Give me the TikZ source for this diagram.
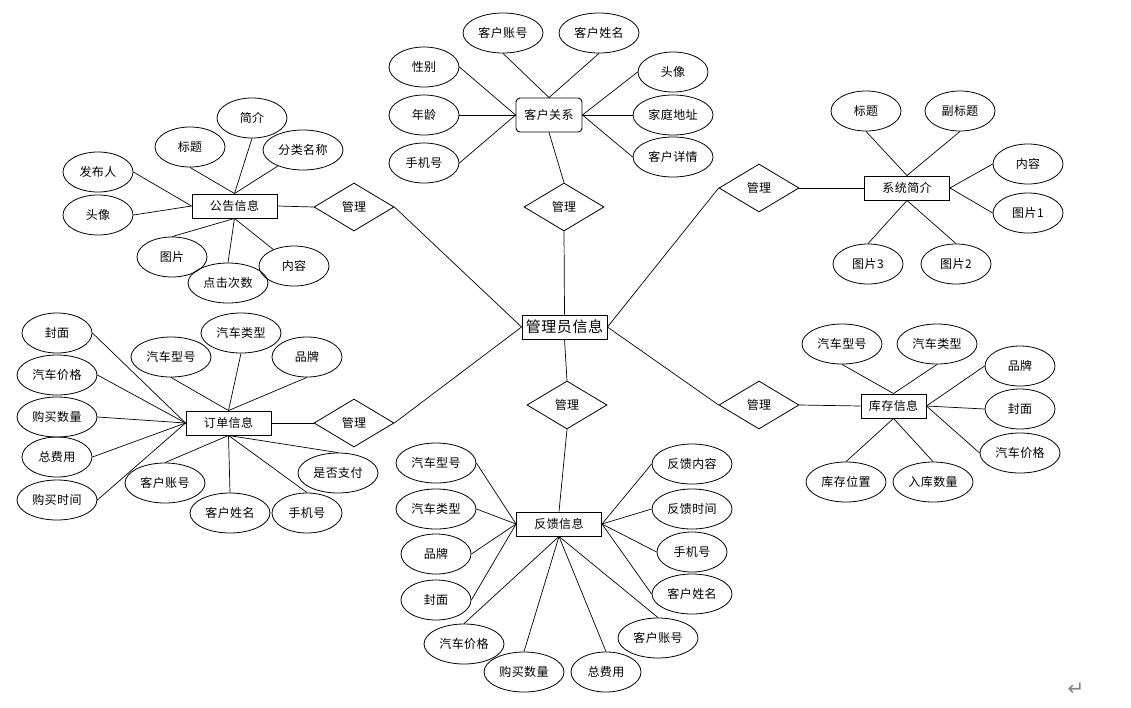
\documentclass[tikz,border=0pt]{standalone}
\usepackage{fontspec}
\newfontfamily\cjk[LetterSpace=4]{Noto Sans CJK SC}
\newfontfamily\dv{DejaVu Sans}
\usetikzlibrary{shapes.geometric}
\tikzset{
  attr/.style={draw, ellipse, inner sep=0pt, minimum width=70pt, minimum height=40pt, line width=0.8pt, font=\cjk\fontsize{12}{14}\selectfont},
  attrw/.style={attr, minimum width=80pt},
  ent/.style={draw, rectangle, inner sep=0pt, minimum width=85pt, minimum height=24pt, line width=0.9pt, font=\cjk\fontsize{12}{14}\selectfont},
  rel/.style={draw, diamond, inner sep=0pt, minimum width=80pt, minimum height=48pt, line width=0.8pt, font=\cjk\fontsize{12}{14}\selectfont},
  lnk/.style={line width=0.7pt}
}
\begin{document}
\begin{tikzpicture}[x=1pt,y=-1pt]
\useasboundingbox (0,0) rectangle (1131,707);
% admin
\node[ent, font=\cjk\fontsize{15}{17}\selectfont] (adm) at (564.5,327) {管理员信息};
% customer relation
\node[ent, rounded corners=4pt, minimum width=66pt, minimum height=34pt] (kh) at (549,115) {客户关系};
\node[attrw] (kh1) at (503,33) {客户账号};
\node[attrw] (kh2) at (599,33) {客户姓名};
\node[attr] (kh3) at (424,67) {性别};
\node[attr] (kh4) at (424,115) {年龄};
\node[attr] (kh5) at (424,163) {手机号};
\node[attr] (kh6) at (673,72) {头像};
\node[attrw] (kh7) at (673,115) {家庭地址};
\node[attrw] (kh8) at (673,157) {客户详情};
\node[rel] (r1) at (564,207) {管理};
\draw[lnk] (kh1.south) -- (kh.north);
\draw[lnk] (kh2.south) -- (kh.north);
\draw[lnk] (kh3.east) -- (kh.west);
\draw[lnk] (kh4.east) -- (kh.west);
\draw[lnk] (kh5.east) -- (kh.west);
\draw[lnk] (kh6.west) -- (kh.east);
\draw[lnk] (kh7.west) -- (kh.east);
\draw[lnk] (kh8.west) -- (kh.east);
\draw[lnk] (kh.south) -- (r1.north);
\draw[lnk] (r1.south) -- (adm.north);
% announcement
\node[ent] (gg) at (234.5,206) {公告信息};
\node[attr] (gg1) at (252,118) {简介};
\node[attr] (gg2) at (190,147) {标题};
\node[attrw] (gg3) at (303,150) {分类名称};
\node[attr] (gg4) at (98,172) {发布人};
\node[attr] (gg5) at (98,215) {头像};
\node[attr] (gg6) at (172,257) {图片};
\node[attrw] (gg7) at (228,283) {点击次数};
\node[attr] (gg8) at (294,266) {内容};
\node[rel] (r2) at (354,207) {管理};
\draw[lnk] (gg4.east) -- (gg.west);
\draw[lnk] (gg5.east) -- (gg.west);
\draw[lnk] (gg2.south) -- (gg.north);
\draw[lnk] (gg1.south) -- (gg.north);
\draw[lnk] (gg3) -- (gg.north);
\draw[lnk] (gg6.north) -- (gg.south);
\draw[lnk] (gg7.north) -- (gg.south);
\draw[lnk] (gg8) -- (gg.south);
\draw[lnk] (gg.east) -- (r2.west);
\draw[lnk] (r2.east) -- (adm.west);
% order
\node[ent] (dd) at (228.5,423) {订单信息};
\node[attr] (dd1) at (57,333) {封面};
\node[attrw] (dd2) at (57,375) {汽车价格};
\node[attrw] (dd3) at (57,417) {购买数量};
\node[attr] (dd4) at (57,457) {总费用};
\node[attrw] (dd5) at (57,500) {购买时间};
\node[attrw] (dd6) at (171,357) {汽车型号};
\node[attrw] (dd7) at (241,333) {汽车类型};
\node[attr] (dd8) at (307,357) {品牌};
\node[attrw] (dd9) at (165,483) {客户账号};
\node[attrw] (dd10) at (230,513) {客户姓名};
\node[attr] (dd11) at (307,513) {手机号};
\node[attrw] (dd12) at (338,473) {是否支付};
\node[rel] (r3) at (354,423) {管理};
\foreach \i in {1,...,5} {\draw[lnk] (dd\i.east) -- (dd.west);}
\foreach \i in {6,7,8} {\draw[lnk] (dd\i.south) -- (dd.north);}
\foreach \i in {9,10,11,12} {\draw[lnk] (dd\i.north) -- (dd.south);}
\draw[lnk] (dd.east) -- (r3.west);
\draw[lnk] (r3.east) -- (adm.west);
% feedback
\node[ent] (fk) at (559,524) {反馈信息};
\node[rel] (r4) at (567,405) {管理};
\node[attrw] (fk1) at (436,463) {汽车型号};
\node[attrw] (fk2) at (436,509) {汽车类型};
\node[attr] (fk3) at (436,554) {品牌};
\node[attr] (fk4) at (436,600) {封面};
\node[attrw] (fk5) at (464,644) {汽车价格};
\node[attrw] (fk6) at (524,672) {购买数量};
\node[attr] (fk7) at (606,672) {总费用};
\node[attrw] (fk8) at (658,638) {客户账号};
\node[attrw] (fk9) at (692,594) {客户姓名};
\node[attr] (fk10) at (692,552) {手机号};
\node[attrw] (fk11) at (692,509) {反馈时间};
\node[attrw] (fk12) at (692,464) {反馈内容};
\foreach \i in {1,2,3,4} {\draw[lnk] (fk\i.east) -- (fk.west);}
\foreach \i in {5,6,7,8} {\draw[lnk] (fk\i.north) -- (fk.south);}
\foreach \i in {9,10,11,12} {\draw[lnk] (fk\i.west) -- (fk.east);}
\draw[lnk] (adm.south) -- (r4.north);
\draw[lnk] (r4.south) -- (fk.north);
% system intro
\node[ent] (xt) at (907,188) {系统简介};
\node[attr] (xt1) at (866,111) {标题};
\node[attr] (xt2) at (960,111) {副标题};
\node[attr] (xt3) at (1028,164) {内容};
\node[attr] (xt4) at (1028,213) {图片1};
\node[attr] (xt5) at (868,264) {图片3};
\node[attr] (xt6) at (956,264) {图片2};
\node[rel] (r5) at (759,188) {管理};
\draw[lnk] (xt1.south) -- (xt.north);
\draw[lnk] (xt2.south) -- (xt.north);
\draw[lnk] (xt3.west) -- (xt.east);
\draw[lnk] (xt4.west) -- (xt.east);
\draw[lnk] (xt5.north) -- (xt.south);
\draw[lnk] (xt6.north) -- (xt.south);
\draw[lnk] (r5.east) -- (xt.west);
\draw[lnk] (adm.east) -- (r5.west);
% inventory
\node[ent, minimum width=65pt] (kc) at (893.5,406) {库存信息};
\node[attrw] (kc1) at (842,344) {汽车型号};
\node[attrw] (kc2) at (937,344) {汽车类型};
\node[attr] (kc3) at (1020,366) {品牌};
\node[attr] (kc4) at (1020,409) {封面};
\node[attrw] (kc5) at (1020,453) {汽车价格};
\node[attrw] (kc6) at (846,482) {库存位置};
\node[attrw] (kc7) at (933,482) {入库数量};
\node[rel] (r6) at (759,405) {管理};
\draw[lnk] (kc1.south) -- (kc.north);
\draw[lnk] (kc2.south) -- (kc.north);
\foreach \i in {3,4,5} {\draw[lnk] (kc\i.west) -- (kc.east);}
\draw[lnk] (kc6.north) -- (kc.south);
\draw[lnk] (kc7.north) -- (kc.south);
\draw[lnk] (r6.east) -- (kc.west);
\draw[lnk] (adm.east) -- (r6.west);
% paragraph mark
\node[text=gray, inner sep=0pt, font=\dv\fontsize{20}{20}\selectfont] (ret) at (1076,689) {↵};
\end{tikzpicture}
\end{document}
